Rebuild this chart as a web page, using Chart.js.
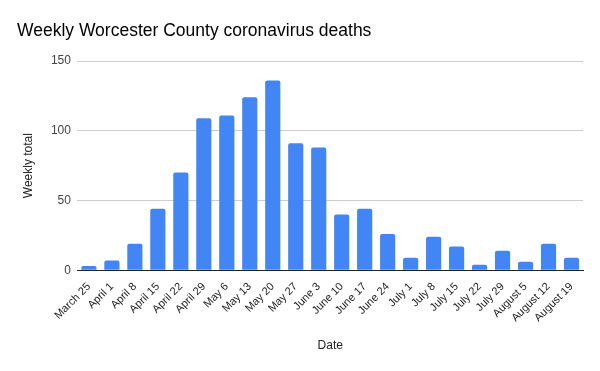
<!DOCTYPE html>
<html lang="en">
<head>
    <meta charset="UTF-8">
    <title>Weekly Worcester County coronavirus deaths</title>
    <script src="https://cdn.jsdelivr.net/npm/chart.js"></script>
    <style>
        html, body { margin: 0; padding: 0; background: #fff; }
        #wrap { width: 600px; height: 371px; }
    </style>
</head>
<body>
    <div id="wrap">
        <canvas id="myChart"></canvas>
    </div>
    <script>
        const weeks = ['March 25', 'April 1', 'April 8', 'April 15', 'April 22', 'April 29',
            'May 6', 'May 13', 'May 20', 'May 27', 'June 3', 'June 10', 'June 17', 'June 24',
            'July 1', 'July 8', 'July 15', 'July 22', 'July 29', 'August 5', 'August 12', 'August 19'];
        const weeklyDeaths = [3, 7, 19, 44, 70, 109, 111, 124, 136, 91, 88, 40, 44, 26,
            9, 24, 17, 4, 14, 6, 19, 9];
        const yTicks = [0, 50, 100, 150];

        const font = 'Arial, "Liberation Sans", sans-serif';

        const config = {
            type: 'bar',
            data: {
                labels: weeks,
                datasets: [{
                    label: 'Weekly total',
                    data: weeklyDeaths,
                    backgroundColor: '#4285f4',
                    borderRadius: 2,
                    borderSkipped: 'bottom',
                    barPercentage: 0.66,
                    categoryPercentage: 1
                }]
            },
            options: {
                responsive: true,
                maintainAspectRatio: false,
                animation: false,
                layout: { padding: { left: 17, right: 17, top: 8, bottom: 14 } },
                plugins: {
                    legend: { display: false },
                    tooltip: { enabled: false },
                    title: {
                        display: true,
                        text: 'Weekly Worcester County coronavirus deaths',
                        align: 'start',
                        color: '#000',
                        font: { family: font, size: 17.5, weight: 'normal' },
                        padding: { top: 13, bottom: 19 }
                    }
                },
                scales: {
                    x: {
                        grid: { display: false },
                        border: { color: '#222', width: 1 },
                        ticks: {
                            color: '#222',
                            font: { family: font, size: 11 },
                            minRotation: 45,
                            maxRotation: 45,
                            autoSkip: false,
                            padding: 2
                        },
                        title: {
                            display: true,
                            text: 'Date',
                            color: '#222',
                            font: { family: font, size: 12 },
                            padding: { top: 12 }
                        }
                    },
                    y: {
                        min: yTicks[0],
                        max: yTicks[yTicks.length - 1],
                        afterBuildTicks: axis => { axis.ticks = yTicks.map(v => ({ value: v })); },
                        grid: { color: '#cccccc', drawTicks: false },
                        border: { display: false },
                        ticks: {
                            color: '#444',
                            font: { family: font, size: 12 },
                            padding: 6.5
                        },
                        title: {
                            display: true,
                            text: 'Weekly total',
                            color: '#222',
                            font: { family: font, size: 12 },
                            padding: { bottom: 9 }
                        }
                    }
                }
            }
        };

        new Chart(document.getElementById('myChart'), config);
    </script>
</body>
</html>
